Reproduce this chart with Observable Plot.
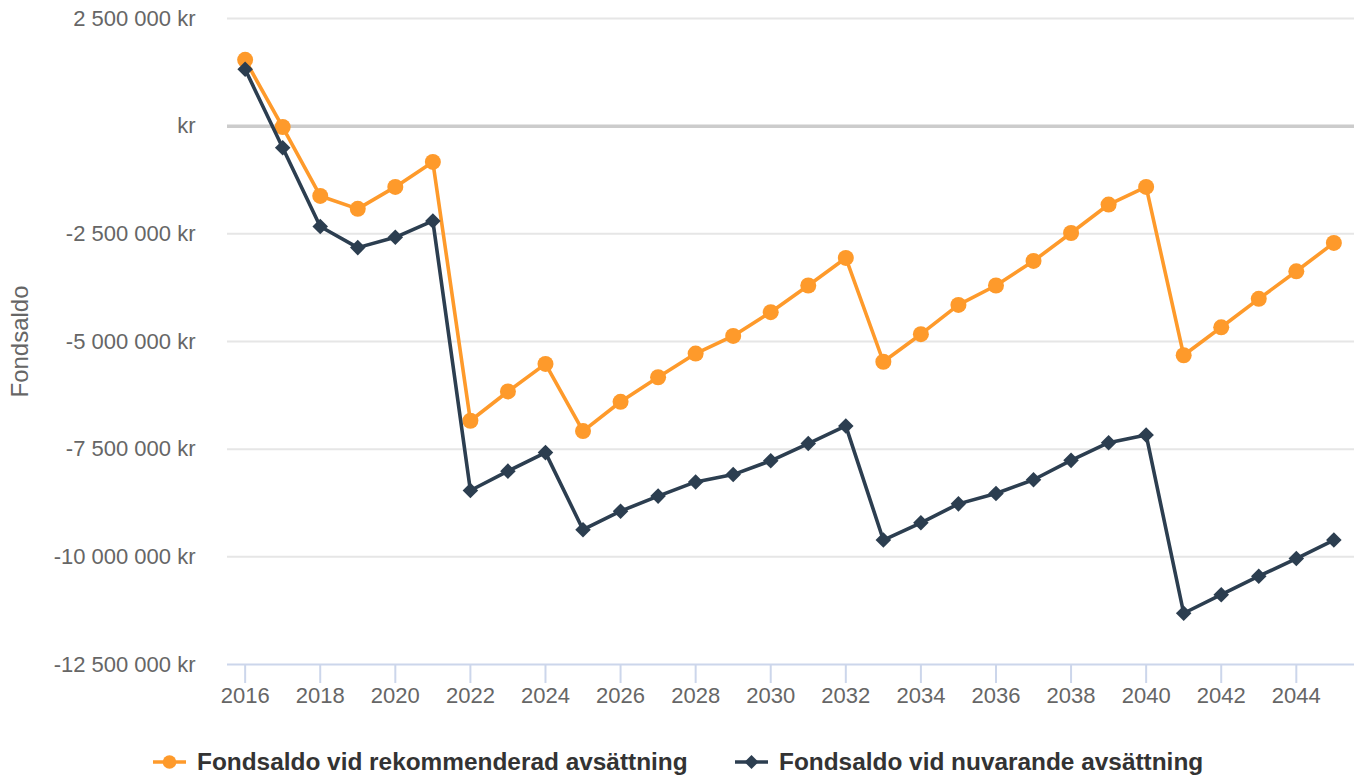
<!DOCTYPE html>
<html>
<head>
<meta charset="utf-8">
<script src="https://cdn.jsdelivr.net/npm/d3@7"></script>
<script src="https://cdn.jsdelivr.net/npm/@observablehq/plot@0.6"></script>
<style>
  body { margin: 0; background: #fff; font-family: "Liberation Sans", Arial, sans-serif; }
  #wrap { position: relative; width: 1354px; height: 776px; }
  #legend { position: absolute; left: 0; top: 712px; width: 1354px; height: 64px; }
  .item { position: absolute; top: 36px; height: 28px; display: flex; align-items: center; font-weight: bold; font-size: 24.4px; color: #333; white-space: nowrap; }
  .item svg { margin-right: 11px; }
</style>
</head>
<body>
<div id="wrap"></div>
<script>
const years = d3.range(2016, 2046);
const recommended = [1.54, -0.02, -1.62, -1.92, -1.41, -0.83, -6.84, -6.16, -5.52, -7.08,
  -6.40, -5.83, -5.28, -4.87, -4.32, -3.70, -3.06, -5.47, -4.83, -4.15,
  -3.70, -3.13, -2.48, -1.82, -1.41, -5.32, -4.67, -4.01, -3.37, -2.71].map(v => v * 1e6);
const current = [1.32, -0.50, -2.33, -2.82, -2.58, -2.20, -8.46, -8.01, -7.58, -9.37,
  -8.94, -8.59, -8.26, -8.09, -7.77, -7.37, -6.96, -9.61, -9.21, -8.77,
  -8.53, -8.21, -7.76, -7.35, -7.17, -11.31, -10.88, -10.45, -10.04, -9.61].map(v => v * 1e6);
const seriesNames = ["Fondsaldo vid rekommenderad avsättning", "Fondsaldo vid nuvarande avsättning"];
const seriesColors = ["#fe9a2b", "#2c3e50"];
const yTicks = [2500000, 0, -2500000, -5000000, -7500000, -10000000, -12500000];
const xTicks = d3.range(2016, 2045, 2);
const yTitle = "Fondsaldo";

const rec = years.map((y, i) => ({year: y, value: recommended[i]}));
const cur = years.map((y, i) => ({year: y, value: current[i]}));

const fmtNum = d3.formatLocale({decimal: ",", thousands: " ", grouping: [3], currency: ["", ""], minus: "-"}).format(",d");
const yFmt = d => d === 0 ? "kr" : fmtNum(d) + " kr";

const chart = Plot.plot({
  width: 1354,
  height: 712,
  marginLeft: 227,
  marginRight: 0,
  marginTop: 18,
  marginBottom: 48,
  style: {fontFamily: '"Liberation Sans", Arial, sans-serif', fontSize: "22px", background: "#fff"},
  x: {domain: [2015.53, 2045.55], axis: null},
  y: {domain: [-12500000, 2500000], axis: null},
  marks: [
    Plot.ruleY(yTicks.filter(d => d !== 0 && d !== -12500000), {stroke: "#e6e6e6", strokeWidth: 2}),
    Plot.ruleY([0], {stroke: "#cccccc", strokeWidth: 3.5}),
    Plot.ruleY([-12500000], {stroke: "#ccd6eb", strokeWidth: 2}),
    Plot.axisY({ticks: yTicks, tickSize: 0, tickPadding: 32, tickFormat: yFmt, fill: "#666", fontSize: 22, label: null}),
    Plot.axisX({ticks: xTicks, tickSize: 19, tickPadding: 4, tickFormat: d => String(d), stroke: "#ccd6eb", strokeWidth: 2, fill: "#666", fontSize: 22, label: null}),
    Plot.text([yTitle], {frameAnchor: "left", textAnchor: "middle", rotate: -90, dx: -207, fill: "#666", fontSize: 24}),
    Plot.line(rec, {x: "year", y: "value", stroke: seriesColors[0], strokeWidth: 3.6}),
    Plot.dot(rec, {x: "year", y: "value", fill: seriesColors[0], r: 8, symbol: "circle"}),
    Plot.line(cur, {x: "year", y: "value", stroke: seriesColors[1], strokeWidth: 3.6}),
    Plot.dot(cur, {x: "year", y: "value", fill: seriesColors[1], r: 7, symbol: "diamond2"})
  ]
});

const wrap = document.getElementById("wrap");
wrap.appendChild(chart);

const legend = document.createElement("div");
legend.id = "legend";
const lefts = [153, 735];
seriesNames.forEach((name, i) => {
  const item = document.createElement("div");
  item.className = "item";
  item.style.left = lefts[i] + "px";
  const marker = i === 0
    ? `<circle cx="16.5" cy="14" r="6.8" fill="${seriesColors[i]}"/>`
    : `<path d="M16.5 7 L23.5 14 L16.5 21 L9.5 14 Z" fill="${seriesColors[i]}"/>`;
  item.innerHTML = `<svg width="33" height="28"><line x1="0" x2="33" y1="14" y2="14" stroke="${seriesColors[i]}" stroke-width="3.6"/>${marker}</svg><span>${name}</span>`;
  legend.appendChild(item);
});
wrap.appendChild(legend);
</script>
</body>
</html>
